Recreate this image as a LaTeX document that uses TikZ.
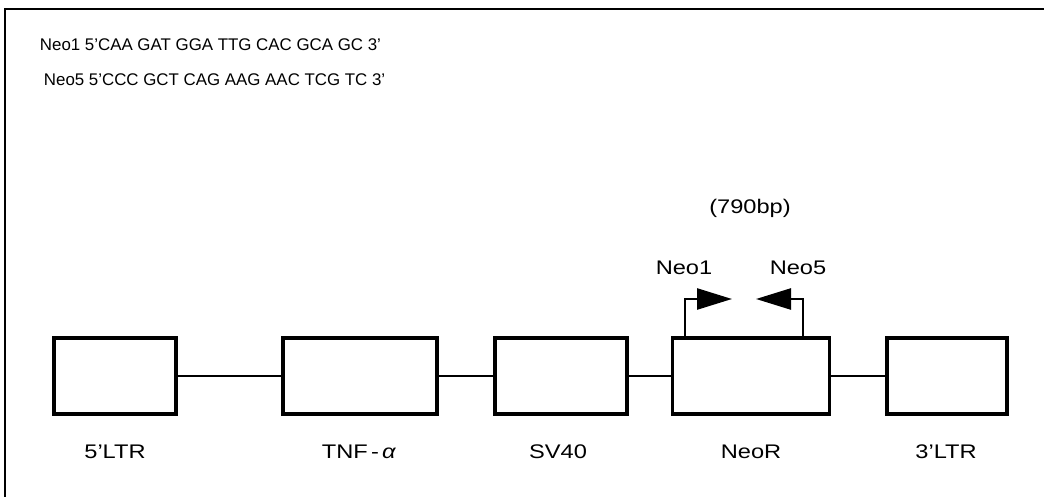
\documentclass[tikz,border=0pt]{standalone}
\usepackage{fontspec}
\setmainfont{Liberation Sans}
\newfontfamily\diagfont[FakeStretch=1.2]{Liberation Sans}
\usetikzlibrary{arrows.meta}

\begin{document}
\begin{tikzpicture}[x=0.025cm,y=-0.025cm,
  gene/.style={draw,line width=2.2pt,minimum height=1.9cm,inner sep=0pt},
  lbl/.style={font=\diagfont\fontsize{14}{16}\selectfont},
  seq/.style={anchor=west,font=\fontsize{12}{14}\selectfont},
  link/.style={line width=2pt},
  primer/.style={line width=1.8pt,-{Triangle[length=0.875cm,width=0.525cm]}}]
\useasboundingbox (0,0) rectangle (1044,497);
\draw [line width=1.5pt] (5,497) -- (5,9) -- (1044,9);
\node [seq] (neo1seq) at (35,45) {Neo1 5’CAA GAT GGA TTG CAC GCA GC 3’};
\node [seq] (neo5seq) at (39,80) {Neo5 5’CCC GCT CAG AAG AAC TCG TC 3’};
% vector map
\node [gene,minimum width=3.05cm] (ltr5) at (115,376) {};
\node [gene,minimum width=3.85cm] (tnf) at (360,376) {};
\node [gene,minimum width=3.3cm] (sv40) at (561,376) {};
\node [gene,minimum width=3.925cm] (neor) at (751,376) {};
\node [gene,minimum width=3.0cm] (ltr3) at (947,376) {};
\draw [link] (ltr5) -- (tnf);
\draw [link] (tnf) -- (sv40);
\draw [link] (sv40) -- (neor);
\draw [link] (neor) -- (ltr3);
\node [lbl] (ltr5 label) at (115,452) {5’LTR};
\node [lbl] (tnf label) at (359,452) {TNF\,-\,\textit{α}};
\node [lbl] (sv40 label) at (558,452) {SV40};
\node [lbl] (neor label) at (751,452) {NeoR};
\node [lbl] (ltr3 label) at (946,452) {3’LTR};
% primers
\coordinate (f1) at (685,299);
\coordinate (r5) at (803,299);
\draw [primer] (neor.north -| f1) -- (f1) -- (732,299);
\draw [primer] (neor.north -| r5) -- (r5) -- (756,299);
\node [lbl] (neo1 label) at (684,268) {Neo1};
\node [lbl] (neo5 label) at (798,268) {Neo5};
\node [lbl] (size label) at (750,208) {(790bp)};
\end{tikzpicture}
\end{document}
